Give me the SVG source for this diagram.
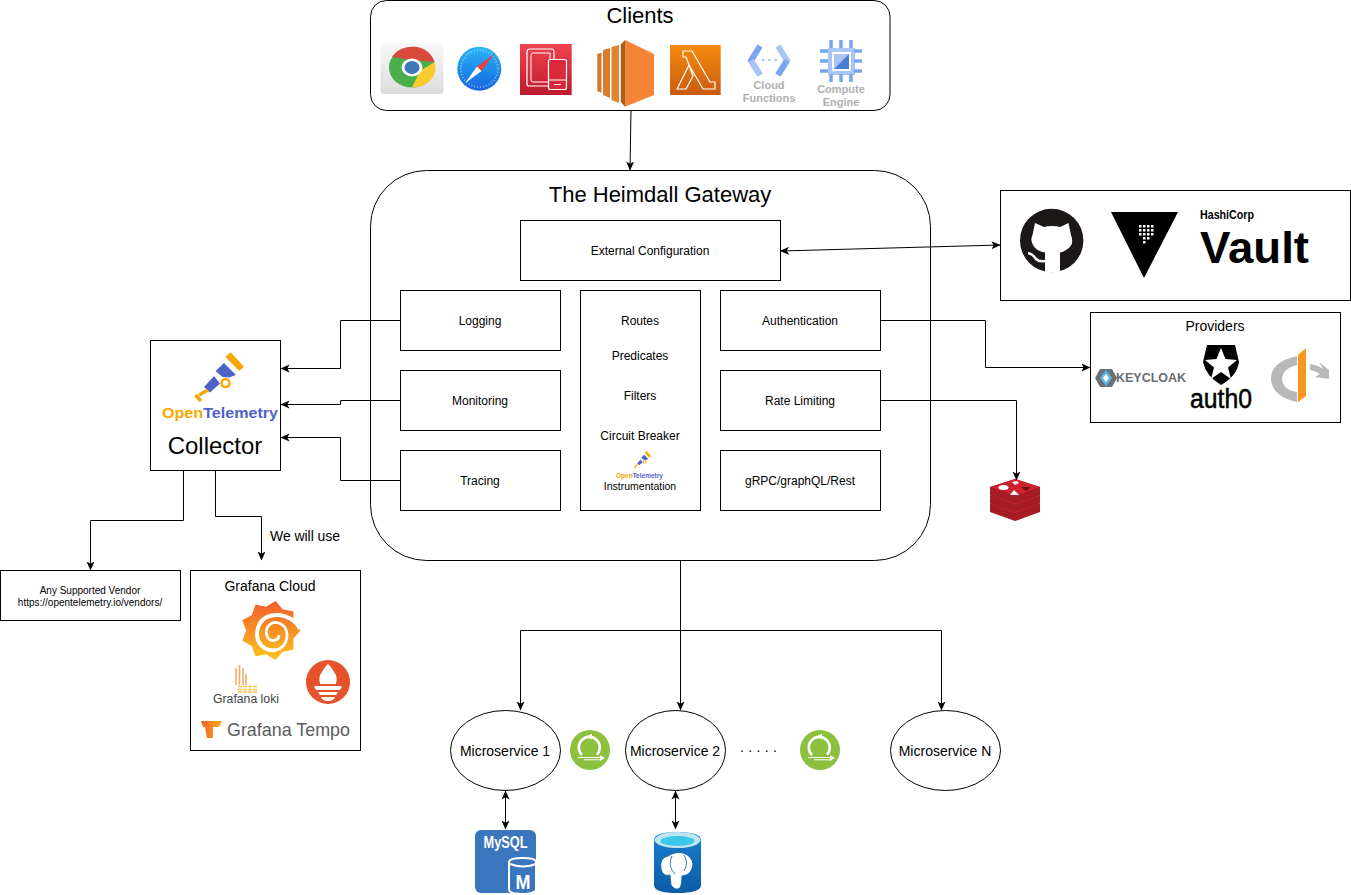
<svg xmlns="http://www.w3.org/2000/svg" width="1351" height="895" viewBox="0 0 1351 895">
<style>
text{font-family:"Liberation Sans",Arial,sans-serif;fill:#000}
.box{fill:#fff;stroke:#000;stroke-width:1}
.t12{font-size:12px;text-anchor:middle}
.t14{font-size:14px;text-anchor:middle}
.t22{font-size:22px;text-anchor:middle}
.conn{fill:none;stroke:#000;stroke-width:1}
.gl{font-weight:bold;font-size:11px;fill:#b0b0b0;text-anchor:middle}
</style>
<defs>
<marker id="a" markerWidth="10" markerHeight="10" refX="8.500" refY="4.500" orient="auto-start-reverse" markerUnits="userSpaceOnUse"><path d="M0,0.500 L9,4.500 L0,8.500 L2.200,4.500 Z" fill="#000"/></marker>
<linearGradient id="gRed" x1="0" y1="0" x2="0" y2="1"><stop offset="0" stop-color="#ef4350"/><stop offset="1" stop-color="#bd1a2e"/></linearGradient>
<linearGradient id="gLam" x1="0" y1="0" x2="0" y2="1"><stop offset="0" stop-color="#f58c0c"/><stop offset="1" stop-color="#c95a12"/></linearGradient>
<linearGradient id="gGraf" x1="0" y1="0" x2="0" y2="1"><stop offset="0" stop-color="#f15f2b"/><stop offset="1" stop-color="#fcc21b"/></linearGradient>
<linearGradient id="gGrey" x1="0" y1="0" x2="0" y2="1"><stop offset="0" stop-color="#f8f8f8"/><stop offset="1" stop-color="#dcdcdc"/></linearGradient>
<linearGradient id="gSaf" x1="0" y1="0" x2="0" y2="1"><stop offset="0" stop-color="#2bb5f5"/><stop offset="1" stop-color="#1464e0"/></linearGradient>
<linearGradient id="gPg" x1="0" y1="0" x2="0" y2="1"><stop offset="0" stop-color="#1a7fd0"/><stop offset="1" stop-color="#0b5ca6"/></linearGradient>
<linearGradient id="gTempo" x1="0" y1="0" x2="1" y2="0"><stop offset="0" stop-color="#f15f2b"/><stop offset="1" stop-color="#fbae1b"/></linearGradient>
<g id="telescope">
<path d="M225.300,356.700L230.700,352.300L244,366.700L239.300,371Z" fill="#f5a800"/>
<path d="M215.500,371L224,363L236,375L229,377.500L222.500,377Z" fill="#4f62c8"/>
<path d="M204,387L214,376L220,383.500L210,392.500Z" fill="#4f62c8"/>
<circle cx="225.500" cy="383" r="4" fill="none" stroke="#f5a800" stroke-width="2.400"/>
<path d="M199,395L208,390M195.500,395L201,401" fill="none" stroke="#f5a800" stroke-width="3.400"/>
</g>
<g id="flux">
<circle r="20" fill="#8bc13f"/>
<path d="M-8,5A10.500,10.500 0 1 1 7,4.500" fill="none" stroke="#fff" stroke-width="2.600"/>
<path d="M-12,7.500H11M-6,9.800H11" stroke="#fff" stroke-width="1"/>
<path d="M10,5L15,8L10,11Z" fill="#fff"/>
<path d="M-3,-13.500L2,-16.500L2,-10.500Z" fill="#fff"/>
</g>
</defs>

<g id="clients">
<rect class="box" x="370.500" y="0.500" width="519.500" height="110" rx="16"/>
<text class="t22" x="640" y="23">Clients</text>
<g id="chrome">
<rect x="380.500" y="43" width="63" height="51" rx="4" fill="url(#gGrey)"/>
<ellipse cx="412" cy="67.500" rx="23" ry="20" fill="#4aae4a"/>
<path d="M392,57A23,20 0 0 1 434.500,62L412,60Z" fill="#d8483b"/>
<path d="M434.500,62A23,20 0 0 1 412,87.500L420,71Z" fill="#fbcb2e"/>
<ellipse cx="412" cy="67.500" rx="10.500" ry="9" fill="#fff"/>
<ellipse cx="412" cy="67.500" rx="7.500" ry="6.500" fill="#3d78b8"/>
</g>
<g id="safari">
<circle cx="479.300" cy="68.700" r="22" fill="url(#gSaf)"/>
<circle cx="479.300" cy="68.700" r="18.500" fill="none" stroke="#cfe6fb" stroke-width="2" stroke-dasharray="1 2" opacity=".6"/>
<path d="M494.300,54L481.500,71L477,66.500Z" fill="#e8403c"/>
<path d="M465,83.300L481.500,71L477,66.500Z" fill="#fff"/>
</g>
<g id="devices">
<rect x="520" y="44" width="51.700" height="51" fill="url(#gRed)"/>
<path d="M548,86H529Q527,86 527,84V52Q527,49 530,49H552Q554,49 554,52V59" fill="none" stroke="#fff" stroke-width="1.200"/>
<path d="M548,82H533Q531,82 531,80V55Q531,53 533,53H550V59" fill="none" stroke="#fff" stroke-width="1"/>
<rect x="548.500" y="59.500" width="18" height="30" rx="2" fill="#d92a3c" stroke="#fff" stroke-width="1.200"/>
<path d="M548.500,80H566.500M554,84.500H561" stroke="#fff" stroke-width="1.200"/>
</g>
<g id="ec2">
<path d="M597.300,54L601.500,52.500V93L597.300,91Z" fill="#d2762c"/>
<path d="M603,50L610,48V98L603,95Z" fill="#d87c2e"/>
<path d="M611.500,47L619,45V103L611.500,100Z" fill="#e0842f"/>
<path d="M620.700,44.500L625,40V106.700L620.700,102Z" fill="#a85f1f"/>
<path d="M625,40L654,54V95L625,106.700Z" fill="#f58536"/>
</g>
<g id="lambda">
<rect x="670" y="45" width="50.700" height="50" fill="url(#gLam)"/>
<path d="M683,51H692L710,82H715V89H703L689,65L686,57H683ZM677,89L689,65L693,76L686,89Z" fill="none" stroke="#fff" stroke-width="1.200" stroke-linejoin="round"/>
</g>
<g id="cloud-functions">
<path d="M760,46L751,60.500L760,75" fill="none" stroke="#7aa4ee" stroke-width="6"/>
<path d="M778,46L787,60.500L778,75" fill="none" stroke="#a9c5f5" stroke-width="6"/>
<path d="M751,60.500L760,75" fill="none" stroke="#a9c5f5" stroke-width="6"/>
<path d="M787,60.500L778,75" fill="none" stroke="#7aa4ee" stroke-width="6"/>
<circle cx="763" cy="60" r="1.300" fill="#a9c5f5"/><circle cx="769.300" cy="60" r="1.300" fill="#a9c5f5"/><circle cx="775.600" cy="60" r="1.300" fill="#a9c5f5"/>
<text class="gl" x="769" y="89">Cloud</text>
<text class="gl" x="769" y="102">Functions</text>
</g>
<g id="compute-engine">
<rect x="830" y="50" width="23" height="23" fill="none" stroke="#a9c5f5" stroke-width="4"/>
<path d="M831,40V48M841,40V48M851,40V48M831,74V82M841,74V82M851,74V82M820,51H828M820,61H828M820,71H828M854,51H862M854,61H862M854,71H862" stroke="#7aa4ee" stroke-width="3.500"/>
<rect x="834" y="54" width="15" height="15" fill="#a9c5f5"/>
<path d="M849,54V69H834Z" fill="#4a7fd8"/>
<text class="gl" x="841" y="93">Compute</text>
<text class="gl" x="841" y="106">Engine</text>
</g>
</g>

<g id="gateway">
<rect class="box" x="370.500" y="170.500" width="560" height="390" rx="56"/>
<text class="t22" x="660" y="202">The Heimdall Gateway</text>
</g>
<g id="external-configuration"><rect class="box" x="520.500" y="220.500" width="260" height="60"/><text class="t12" x="650" y="255">External Configuration</text></g>
<g id="logging"><rect class="box" x="400.500" y="290.500" width="160" height="60"/><text class="t12" x="480" y="325">Logging</text></g>
<g id="monitoring"><rect class="box" x="400.500" y="370.500" width="160" height="60"/><text class="t12" x="480" y="405">Monitoring</text></g>
<g id="tracing"><rect class="box" x="400.500" y="450.500" width="160" height="60"/><text class="t12" x="480" y="485">Tracing</text></g>
<g id="core">
<rect class="box" x="580.500" y="290.500" width="120" height="220"/>
<text class="t12" x="640" y="325">Routes</text>
<text class="t12" x="640" y="360">Predicates</text>
<text class="t12" x="640" y="400">Filters</text>
<text class="t12" x="640" y="440">Circuit Breaker</text>
<use href="#telescope" transform="translate(634,451) scale(.35) translate(-195,-352)"/>
<text x="616" y="478" style="font-size:6.500px;font-weight:bold"><tspan fill="#f5a800">Open</tspan><tspan fill="#4f62c8">Telemetry</tspan></text>
<text x="640" y="490" text-anchor="middle" style="font-size:10.500px">Instrumentation</text>
</g>
<g id="authentication"><rect class="box" x="720.500" y="290.500" width="160" height="60"/><text class="t12" x="800" y="325">Authentication</text></g>
<g id="rate-limiting"><rect class="box" x="720.500" y="370.500" width="160" height="60"/><text class="t12" x="800" y="405">Rate Limiting</text></g>
<g id="protocols"><rect class="box" x="720.500" y="450.500" width="160" height="60"/><text class="t12" x="800" y="485">gRPC/graphQL/Rest</text></g>

<g id="vault">
<rect class="box" x="1000.500" y="190.500" width="350" height="110"/>
<circle cx="1051.700" cy="240.500" r="31.700" fill="#1b1817"/>
<path d="M1035,223L1044,227Q1052,225 1060,227L1068.500,223L1071,235Q1075,245 1066,250Q1063,252 1060,252.500V272.500H1045V252.500Q1036,251 1033,245Q1030,240 1032.500,235Z" fill="#fff"/>
<path d="M1028,253Q1033,254 1036,259Q1039,262 1045,261" fill="none" stroke="#fff" stroke-width="2.500"/>
<path d="M1111,212H1178L1144,278Z" fill="#000"/>
<g fill="#fff"><rect x="1139" y="225" width="2.500" height="2.500"/><rect x="1143" y="225" width="2.500" height="2.500"/><rect x="1147" y="225" width="2.500" height="2.500"/><rect x="1151" y="225" width="2.500" height="2.500"/><rect x="1139" y="229" width="2.500" height="2.500"/><rect x="1143" y="229" width="2.500" height="2.500"/><rect x="1147" y="229" width="2.500" height="2.500"/><rect x="1151" y="229" width="2.500" height="2.500"/><rect x="1139" y="233" width="2.500" height="2.500"/><rect x="1143" y="233" width="2.500" height="2.500"/><rect x="1147" y="233" width="2.500" height="2.500"/><rect x="1151" y="233" width="2.500" height="2.500"/><rect x="1143" y="237" width="2.500" height="2.500"/><rect x="1147" y="237" width="2.500" height="2.500"/><rect x="1143" y="241" width="2.500" height="2.500"/></g>
<text x="1200" y="219" style="font-size:12px;font-weight:bold" textLength="54" lengthAdjust="spacingAndGlyphs">HashiCorp</text>
<text x="1200" y="263" style="font-size:44px;font-weight:bold" textLength="109" lengthAdjust="spacingAndGlyphs">Vault</text>
</g>

<g id="providers">
<rect class="box" x="1090.500" y="312.500" width="250" height="110"/>
<text class="t14" x="1215" y="331">Providers</text>
<path d="M1095,378L1100,369H1112L1117,378L1112,387H1100Z" fill="#6a7076"/>
<path d="M1100,378L1106,370L1112,378L1106,386Z" fill="#5cb8e6"/>
<path d="M1103,378L1106,374L1109,378L1106,382Z" fill="#fff"/>
<text x="1116" y="382" style="font-size:13px;font-weight:bold;fill:#6a6e73" textLength="70" lengthAdjust="spacingAndGlyphs">KEYCLOAK</text>
<path d="M1207,345H1235L1239,362Q1237,376 1221,385Q1206,376 1203,362Z" fill="#000"/>
<path d="M1221,348L1225.500,359L1237,360L1228,367.500L1231,379L1221,372L1211,379L1214,367.500L1205,360L1216.500,359Z" fill="#fff"/>
<text x="1190" y="408" style="font-size:27px;stroke:#000;stroke-width:.5" textLength="62" lengthAdjust="spacingAndGlyphs">auth0</text>
<path d="M1297,356Q1270,362 1271,380Q1273,397 1297,402V392Q1283,390 1282,379Q1283,368 1297,365Z" fill="#b8b8b8"/>
<path d="M1298,355L1306,348V396L1298,402Z" fill="#f7981d"/>
<path d="M1310,364Q1318,365 1323,369L1319,362L1329,370V379L1315,377L1320,374Q1316,371 1310,370Z" fill="#b8b8b8"/>
</g>

<g id="collector">
<rect class="box" x="150.500" y="340.500" width="130" height="130"/>
<use href="#telescope"/>
<text x="162" y="418" style="font-size:15px;font-weight:bold" textLength="116" lengthAdjust="spacingAndGlyphs"><tspan fill="#f5a800">Open</tspan><tspan fill="#4f62c8">Telemetry</tspan></text>
<text x="215" y="454" text-anchor="middle" style="font-size:24px">Collector</text>
</g>

<g id="vendor">
<rect class="box" x="0.500" y="570.500" width="180" height="50"/>
<text x="90" y="594" text-anchor="middle" style="font-size:10px">Any Supported Vendor</text>
<text x="90" y="606" text-anchor="middle" style="font-size:10px">https://opentelemetry.io/vendors/</text>
</g>

<g id="grafana-cloud">
<rect class="box" x="190.500" y="570.500" width="170" height="180"/>
<text class="t14" x="270" y="591">Grafana Cloud</text>
<path d="M299.500,630.500L292.600,638.500L292.700,649.100L282.300,650.900L275.500,659L266.400,653.600L256,655.600L252.500,645.600L243.200,640.400L247,630.500L243.200,620.600L252.500,615.400L256,605.400L266.400,607.400L275.500,601.900L282.300,610.100L292.700,611.900L292.600,622.500Z" fill="url(#gGraf)" stroke="url(#gGraf)" stroke-width="1.500" stroke-linejoin="round"/>
<path d="M300,629C292,612 266,610 259,625C253,640 262,652 276,650" fill="none" stroke="#fff" stroke-width="4"/>
<path d="M276,650C288,647 291,630 281,624C272,619 264,627 267,636C270,643 279,641 279,635" fill="none" stroke="#fff" stroke-width="2.800"/>
<path d="M236,668V685M239.500,665V685M243,668V685M246,674V685" fill="none" stroke="#f2a75c" stroke-width="1.500"/>
<path d="M238,686.500H258M238,689.500H258M238,692H258" stroke="#f5c242" stroke-width="1.300" stroke-dasharray="4 1"/>
<text x="213" y="703" style="font-size:12.500px;fill:#444" textLength="66" lengthAdjust="spacingAndGlyphs">Grafana loki</text>
<circle cx="328" cy="682" r="22" fill="#e6522c"/>
<path d="M320,684Q318,676 322,672Q323,669 328,664Q333,669 334,672Q338,676 336,684Z" fill="#fff"/>
<path d="M314,686H342L340,690H316ZM318,692H338L336,695H320ZM321,697H335Q334,701 328,701Q322,701 321,697Z" fill="#fff"/>
<path d="M201,721H222L219,727H213V738H207L205,727H203Z" fill="url(#gTempo)"/>
<text x="227" y="736" style="font-size:19px;fill:#5a5d60" textLength="123" lengthAdjust="spacingAndGlyphs">Grafana Tempo</text>
</g>

<g id="microservice-1"><ellipse class="box" cx="505.500" cy="750.500" rx="55" ry="40"/><text class="t14" x="505" y="756">Microservice 1</text></g>
<g id="flux-1"><use href="#flux" x="590" y="750"/></g>
<g id="microservice-2"><ellipse class="box" cx="675.500" cy="750.500" rx="50" ry="40"/><text class="t14" x="675" y="756">Microservice 2</text></g>
<text x="740" y="752" style="font-size:14px;letter-spacing:.25px">. . . . .</text>
<g id="flux-2"><use href="#flux" x="820" y="750"/></g>
<g id="microservice-n"><ellipse class="box" cx="945.500" cy="750.500" rx="55" ry="40"/><text class="t14" x="945" y="756">Microservice N</text></g>

<g id="mysql">
<rect x="475" y="830" width="61" height="63" rx="6" fill="#3a76bd"/>
<text x="505.500" y="848" text-anchor="middle" style="font-size:17px;font-weight:bold;fill:#fff" textLength="44" lengthAdjust="spacingAndGlyphs">MySQL</text>
<path d="M509,862Q509,858 523,858Q536,858 536,862V890Q534,894 523,894Q510,894 509,890Z" fill="#3a76bd" stroke="#fff" stroke-width="2"/>
<path d="M510,864Q523,869 536,864" fill="none" stroke="#fff" stroke-width="2"/>
<text x="523" y="889" text-anchor="middle" style="font-size:20px;font-weight:bold;fill:#fff" textLength="15" lengthAdjust="spacingAndGlyphs">M</text>
</g>

<g id="postgres">
<path d="M654,840Q654,832 677,832Q701,832 701,840V885Q701,893 677,893Q654,893 654,885Z" fill="url(#gPg)"/>
<ellipse cx="677.500" cy="840" rx="23" ry="8" fill="#bfe3f0"/>
<ellipse cx="677.500" cy="841" rx="17" ry="5" fill="#3cc7ea"/>
<path d="M668,856Q659,858 661,869Q663,877 670,875L671,885Q675,891 680,888Q682,884 682,876Q692,875 693,864Q692,856 683,853Q676,851 668,856Z" fill="#fff" stroke="#0b5ca6" stroke-width=".8"/>
<path d="M672,856Q667,866 675,874M684,855Q689,863 684,871" fill="none" stroke="#0b5ca6" stroke-width=".8"/>
</g>

<g id="redis">
<path d="M990,504L1015,496L1040,504V512L1015,521L990,512Z" fill="#a51c24"/>
<path d="M990,504L1015,513L1040,504L1015,496Z" fill="#c42430"/>
<path d="M990,495.500L1015,487.500L1040,495.500V503.500L1015,512L990,503.500Z" fill="#a51c24"/>
<path d="M990,495.500L1015,504.500L1040,495.500L1015,487.500Z" fill="#c42430"/>
<path d="M990,487L1015,479L1040,487V495L1015,503.500L990,495Z" fill="#a51c24"/>
<path d="M990,487L1015,496L1040,487L1015,479Z" fill="#cf2230"/>
<ellipse cx="1003.500" cy="487.500" rx="5" ry="2.500" fill="#fff"/>
<path d="M1010,495L1019,495L1014,490Z" fill="#fff"/>
<path d="M1012,482L1017,481L1019,483L1015,485Z" fill="#fff"/>
<path d="M1021,487L1031,487L1026,491Z" fill="#701018"/>
</g>

<g id="connectors">
<path class="conn" d="M631,110L630,170" marker-end="url(#a)"/>
<path class="conn" d="M780.500,251L1000,245" marker-start="url(#a)" marker-end="url(#a)"/>
<path class="conn" d="M400,320.500H340.500V368.500H281" marker-end="url(#a)"/>
<path class="conn" d="M400,400.500H340.500V404.500H281" marker-end="url(#a)"/>
<path class="conn" d="M400,480.500H340.500V437.500H281" marker-end="url(#a)"/>
<path class="conn" d="M881,320.500H985.500V367.500H1090" marker-end="url(#a)"/>
<path class="conn" d="M881,400.500H1016.500V480" marker-end="url(#a)"/>
<path class="conn" d="M183.500,471V520.500H90.500V570" marker-end="url(#a)"/>
<path class="conn" d="M215.500,471V516.500H261.500V560" marker-end="url(#a)"/>
<path class="conn" d="M680.500,561V710" marker-end="url(#a)"/>
<path class="conn" d="M680.500,630.500H520.500V710" marker-end="url(#a)"/>
<path class="conn" d="M680.500,630.500H941.500V710" marker-end="url(#a)"/>
<path class="conn" d="M505.500,791V829" marker-start="url(#a)" marker-end="url(#a)"/>
<path class="conn" d="M675.500,791V829" marker-start="url(#a)" marker-end="url(#a)"/>
</g>
<text x="270" y="541" style="font-size:14px" textLength="70">We will use</text>
</svg>
